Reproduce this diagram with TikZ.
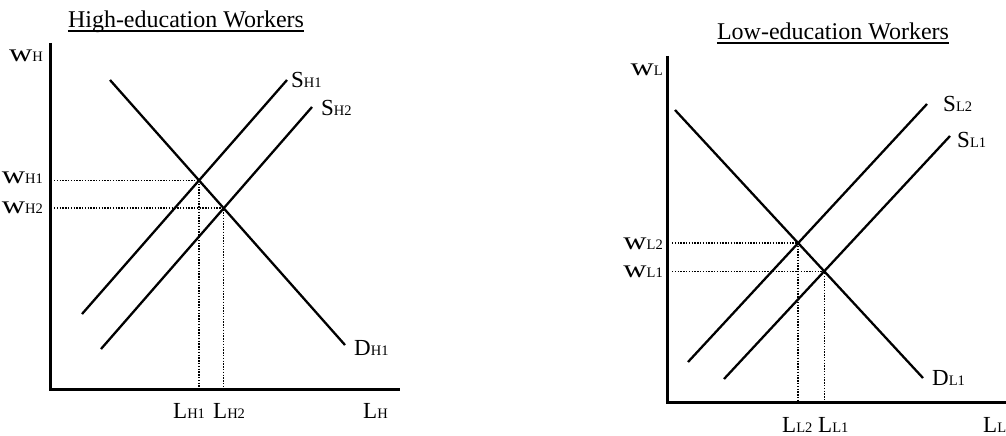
\documentclass[tikz,border=0pt]{standalone}
\usepackage{graphicx}
\usepackage{fontspec}
\setmainfont{Liberation Serif}
\newcommand\lbl[2]{{\fontsize{23}{23}\selectfont #1}{\fontsize{14.5}{14.5}\selectfont #2}}
\newcommand\wlbl[1]{\lbl{\scalebox{1.4}[1.1]{w}}{#1}}
\begin{document}
\begin{tikzpicture}[x=1pt,y=-1pt,
  axisline/.style={line width=3pt},
  curve/.style={line width=2.3pt},
  guide/.style={line width=1.5pt, dash pattern=on 1.4pt off 1.4pt},
  uline/.style={line width=1.5pt},
  lab/.style={inner sep=0pt, anchor=base west},
  labr/.style={inner sep=0pt, anchor=base east},
  ttl/.style={inner sep=0pt, anchor=base, font=\fontsize{24}{24}\selectfont}]
\useasboundingbox (0,0) rectangle (1006,436);

% ---------- Left panel ----------
\node[ttl] (t1) at (186,28) {High-education Workers};
\draw[uline] ([yshift=-3pt]t1.base west) -- ([yshift=-3pt]t1.base east);

\coordinate (yt1) at (50,43);
\coordinate (o1) at (50,389);
\coordinate (xe1) at (400,389);
\coordinate (g1) at (54,0);
\draw[axisline] (yt1) -- (o1) -- (xe1);

\coordinate (d1a) at (110,80);  \coordinate (d1b) at (345,345);
\coordinate (s1a) at (82,314);  \coordinate (s1b) at (287,80);
\coordinate (s2a) at (101,349); \coordinate (s2b) at (312,107);
\coordinate (e1) at (intersection of d1a--d1b and s1a--s1b);
\coordinate (e2) at (intersection of d1a--d1b and s2a--s2b);

\draw[curve] (d1a) -- (d1b);
\draw[curve] (s1a) -- (s1b);
\draw[curve] (s2a) -- (s2b);

\draw[guide] (e1 -| g1) -- (e1) -- (e1 |- o1);
\draw[guide] (e2 -| g1) -- (e2) -- (e2 |- o1);

\node[labr] (wh)  at (43,62)  {\wlbl{H}};
\node[labr] (wh1) at (43,183) {\wlbl{H1}};
\node[labr] (wh2) at (43,213) {\wlbl{H2}};
\node[lab] (sh1) at (291,88)  {\lbl{S}{H1}};
\node[lab] (sh2) at (321,115) {\lbl{S}{H2}};
\node[lab] (dh1) at (354,355) {\lbl{D}{H1}};
\node[lab] (lh1) at (173,418) {\lbl{L}{H1}};
\node[lab] (lh2) at (213,418) {\lbl{L}{H2}};
\node[lab] (lh)  at (363,418) {\lbl{L}{H}};

% ---------- Right panel ----------
\node[ttl] (t2) at (833,40) {Low-education Workers};
\draw[uline] ([yshift=-3pt]t2.base west) -- ([yshift=-3pt]t2.base east);

\coordinate (yt2) at (667,56);
\coordinate (o2) at (667,402);
\coordinate (xe2) at (1008,402);
\coordinate (g2) at (672,0);
\draw[axisline] (yt2) -- (o2) -- (xe2);

\coordinate (d2a) at (675,110);  \coordinate (d2b) at (923,378);
\coordinate (r2a) at (688,362);  \coordinate (r2b) at (927,104);
\coordinate (r1a) at (724,379);  \coordinate (r1b) at (950,136);
\coordinate (f2) at (intersection of d2a--d2b and r2a--r2b);
\coordinate (f1) at (intersection of d2a--d2b and r1a--r1b);

\draw[curve] (d2a) -- (d2b);
\draw[curve] (r2a) -- (r2b);
\draw[curve] (r1a) -- (r1b);

\draw[guide] (f2 -| g2) -- (f2) -- (f2 |- o2);
\draw[guide] (f1 -| g2) -- (f1) -- (f1 |- o2);

\node[labr] (wl)  at (663,75)  {\wlbl{L}};
\node[labr] (wl2) at (663,249) {\wlbl{L2}};
\node[labr] (wl1) at (663,277) {\wlbl{L1}};
\node[lab] (sl2) at (943,111) {\lbl{S}{L2}};
\node[lab] (sl1) at (957,147) {\lbl{S}{L1}};
\node[lab] (dl1) at (932,385) {\lbl{D}{L1}};
\node[lab] (ll2) at (782,432) {\lbl{L}{L2}};
\node[lab] (ll1) at (818,432) {\lbl{L}{L1}};
\node[lab] (ll)  at (983,432) {\lbl{L}{L}};
\end{tikzpicture}
\end{document}
